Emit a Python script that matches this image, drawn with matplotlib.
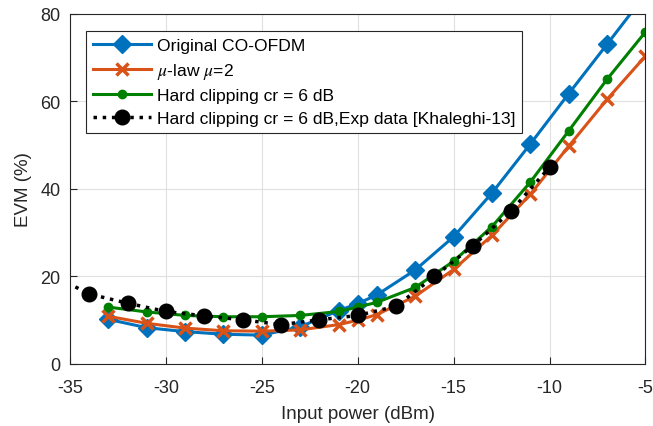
import matplotlib
matplotlib.use('Agg')
import matplotlib.pyplot as plt

plt.rcParams['font.family'] = ['Liberation Sans', 'DejaVu Sans']
plt.rcParams['mathtext.fontset'] = 'stix'
plt.rcParams['axes.unicode_minus'] = False

# simulated curves
p_sim = [-33, -31, -29, -27, -25, -23, -21, -20, -19, -17, -15, -13, -11, -9, -7, -5]
evm_orig = [10.2, 8.3, 7.4, 6.8, 6.6, 8.5, 12.2, 13.8, 15.8, 21.5, 29.1, 39.1, 50.3, 61.8, 73.1, 84.5]
evm_mulaw = [10.9, 9.3, 8.2, 7.6, 7.5, 7.8, 9.0, 10.0, 11.3, 15.5, 21.6, 29.4, 38.8, 49.8, 60.5, 70.4]
evm_clip = [13.0, 11.9, 11.1, 10.8, 10.8, 11.1, 12.0, 13.0, 14.1, 17.5, 23.5, 31.4, 41.6, 53.3, 65.1, 75.9]

# experimental data
p_exp = [-36, -34, -32, -30, -28, -26, -24, -22, -20, -18, -16, -14, -12, -10]
evm_exp = [20.5, 16.0, 13.9, 12.0, 11.0, 10.1, 9.0, 10.1, 11.1, 13.2, 20.0, 27.0, 35.0, 45.0]

fig = plt.figure(figsize=(6.53, 4.27), dpi=100)
ax = fig.add_axes([0.1072, 0.1452, 0.8813, 0.8197])

ax.plot(p_sim, evm_orig, '-D', color='#0072BD', lw=2.2, ms=9.5, label='Original CO-OFDM')
ax.plot(p_sim, evm_mulaw, '-x', color='#D95319', lw=2.2, ms=9, mew=2.5, label=r'$\mu$-law $\mu$=2')
ax.plot(p_sim, evm_clip, '-o', color='#008000', lw=2.2, ms=6, label='Hard clipping cr = 6 dB')
ax.plot(p_exp, evm_exp, ':o', color='black', lw=2.5, ms=10.5,
        label='Hard clipping cr = 6 dB,Exp data [Khaleghi-13]')

ax.set_xlim(-35, -5)
ax.set_ylim(0, 80)
ax.set_xticks(range(-35, -4, 5))
ax.set_yticks(range(0, 81, 20))
ax.grid(True, color='#e0e0e0', lw=0.8)
ax.set_axisbelow(True)
ax.tick_params(direction='in', length=5, labelsize=13, colors='#262626')
ax.tick_params(axis='x', pad=11)
ax.tick_params(axis='y', pad=7)
for s in ax.spines.values():
    s.set_color('#262626')
    s.set_linewidth(0.8)

ax.set_xlabel('Input power (dBm)', fontsize=13.5, color='#262626', labelpad=6)
ax.set_ylabel('EVM (%)', fontsize=13.5, color='#262626', labelpad=6)

leg = ax.legend(loc='upper left', bbox_to_anchor=(0.028, 0.951), borderaxespad=0,
                fontsize=12.6, fancybox=False, framealpha=1, edgecolor='#262626',
                handlelength=3.3, handletextpad=0.35, labelspacing=0.42, borderpad=0.4)
leg.get_frame().set_linewidth(0.8)

fig.savefig('out.png', dpi=100)
